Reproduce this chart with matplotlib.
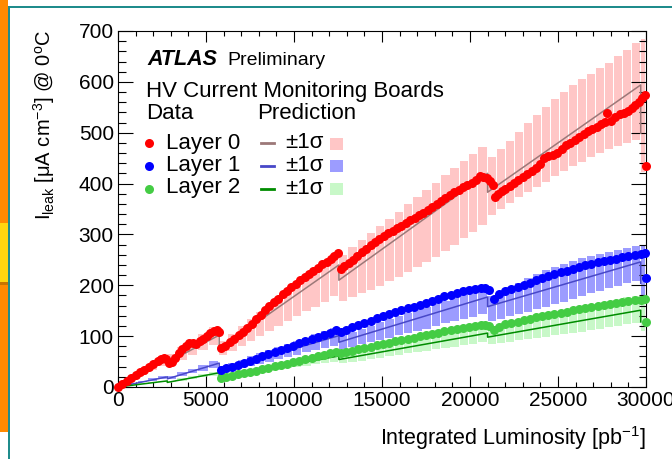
import numpy as np
import matplotlib
matplotlib.use('Agg')
import matplotlib.pyplot as plt
from matplotlib.patches import Rectangle
from matplotlib.lines import Line2D
from matplotlib.ticker import MultipleLocator

plt.rcParams['font.family'] = ['Liberation Sans', 'DejaVu Sans']
plt.rcParams['mathtext.fontset'] = 'custom'
plt.rcParams['mathtext.rm'] = 'Liberation Sans'
plt.rcParams['mathtext.it'] = 'Liberation Sans:italic'
plt.rcParams['mathtext.bf'] = 'Liberation Sans:bold'

# ---- data (integrated luminosity in pb^-1, current in uA/cm3) ----
red_lumi = [0, 250, 500, 750, 1000, 1250, 1500, 1750, 2000, 2250, 2450, 2600, 2750, 2880, 3050, 3250, 3450,
            3650, 3850, 4050, 4250, 4450, 4650, 4850, 5050, 5250, 5450, 5600, 5750,
            5880, 6100, 6350, 6600, 6850, 7100, 7350, 7600, 7850, 8100, 8350, 8600, 8850, 9100, 9350, 9600,
            9850, 10100, 10350, 10600, 10850, 11100, 11350, 11600, 11850, 12100, 12300, 12500,
            12650, 12850, 13100, 13350, 13600, 13850, 14100, 14350, 14600, 14850, 15100, 15350, 15600, 15850,
            16100, 16350, 16600, 16850, 17100, 17350, 17600, 17850, 18100, 18350, 18600, 18850, 19100, 19350,
            19600, 19850, 20100, 20350, 20550, 20750,
            20950, 21150, 21300, 21420, 21600, 21800, 22000, 22250, 22500, 22750, 23000, 23250, 23500, 23750,
            24000, 24200, 24450, 24700, 24950, 25200, 25450, 25700, 25950, 26200, 26450, 26700, 26950, 27200,
            27450, 27650, 27800, 28000, 28250, 28500, 28750, 29000, 29200, 29400, 29600, 29800, 29950, 30000]
red_curr = [0, 6, 12, 18, 23, 29, 34, 40, 46, 51, 55, 58, 56, 48, 50, 57, 66,
            74, 81, 87, 86, 85, 90, 95, 100, 106, 111, 112, 108,
            76, 81, 88, 95, 102, 108, 116, 124, 133, 142, 151, 159, 167, 174, 182, 189,
            197, 203, 210, 216, 223, 228, 234, 241, 246, 252, 257, 264,
            233, 238, 244, 250, 258, 265, 272, 279, 285, 291, 297, 302, 307, 312,
            317, 323, 328, 333, 338, 343, 348, 353, 359, 365, 371, 377, 383, 388,
            393, 397, 402, 407, 415, 413,
            411, 405, 398, 374, 380, 386, 390, 396, 402, 408, 413, 418, 425, 431,
            438, 450, 454, 457, 460, 468, 475, 480, 486, 492, 498, 503, 508, 512,
            517, 521, 538, 523, 530, 537, 539, 543, 549, 555, 561, 568, 574, 435]

bg_lumi = [5850, 6150, 6450, 6800, 7150, 7500, 7850, 8200, 8550, 8900, 9250, 9600, 9950, 10300, 10650,
           11000, 11350, 11700, 12050, 12400,
           12650, 12950, 13300, 13650, 14000, 14350, 14700, 15050, 15400, 15750, 16100, 16450, 16800,
           17150, 17500, 17850, 18200, 18550, 18900, 19250, 19600, 19950, 20300, 20600, 20850, 21100,
           21350, 21650, 22000, 22350, 22700, 23050, 23400, 23750, 24100, 24450, 24800, 25150, 25500,
           25850, 26200, 26550, 26900, 27250, 27600, 27950, 28300, 28650, 29000, 29350, 29700, 29950, 30000]
blue_curr = [33, 37, 40, 44, 48, 52, 56, 60, 65, 69, 73, 77, 81, 86, 90,
             94, 99, 103, 107, 112,
             108, 112, 117, 121, 126, 130, 135, 139, 143, 147, 151, 155, 158,
             162, 166, 170, 174, 178, 181, 185, 188, 191, 193, 195, 194, 190,
             174, 182, 189, 193, 197, 201, 205, 210, 214, 218, 222, 226, 229,
             233, 236, 239, 242, 245, 247, 250, 252, 255, 257, 260, 262, 264, 215]
green_curr = [18, 20, 22, 25, 27, 30, 32, 35, 38, 41, 43, 46, 49, 52, 55,
              58, 60, 63, 66, 69,
              66, 68, 71, 74, 77, 79, 82, 85, 87, 90, 92, 95, 97,
              100, 102, 105, 107, 110, 112, 114, 116, 118, 120, 121, 121, 119,
              112, 117, 124, 126, 128, 131, 134, 137, 140, 142, 144, 146, 148,
              151, 153, 155, 157, 159, 162, 164, 166, 168, 169, 171, 172, 173, 128]

# prediction (piecewise, drops at annealing periods)
pred_lumi = [0, 2800, 2800, 5750, 5750, 12550, 12550, 21000, 21000, 29700, 29700]
red_pred = [0, 55, 48, 102, 75, 240, 210, 420, 383, 594, 499]
blue_pred = [0, 20, 16, 47, 32, 101, 88, 177, 158, 246, 204]
green_pred = [0, 12, 9, 28, 19, 61, 54, 106, 98, 151, 128]

# +-1 sigma bands of the prediction, per luminosity bin
band_edges = [0, 560, 1130, 1700, 2270, 2800, 3380, 3960, 4560, 5150, 5750,
              6270, 6800, 7320, 7850, 8370, 8890, 9420, 9940, 10470, 10990, 11510, 12030, 12550,
              13080, 13610, 14130, 14660, 15190, 15720, 16250, 16780, 17300, 17830, 18360, 18890, 19410,
              19940, 20470, 21000,
              21510, 22030, 22540, 23050, 23560, 24080, 24590, 25100, 25610, 26130, 26640, 27150, 27660,
              28180, 28690, 29200, 29700, 30000]
red_hi = [7, 20, 34, 47, 61, 65, 78, 91, 104, 118,
          91, 105, 120, 134, 148, 162, 177, 191, 205, 219, 233, 247, 262,
          260, 275, 289, 303, 317, 331, 345, 360, 373, 387, 401, 416, 430, 444, 458, 472,
          452, 468, 484, 502, 519, 535, 551, 566, 580, 593, 605, 616, 627, 638, 650, 663, 676,
          684]
red_lo = [5, 14, 24, 33, 42, 45, 54, 63, 73, 82,
          62, 71, 81, 91, 100, 110, 120, 129, 139, 149, 158, 168, 178,
          170, 177, 184, 191, 199, 208, 217, 227, 236, 245, 256, 268, 280, 292, 305, 318,
          338, 350, 362, 374, 384, 393, 404, 414, 424, 434, 443, 452, 460, 467, 474, 480, 486,
          423]
blue_hi = [3, 7, 12, 17, 21, 22, 29, 36, 43, 51,
           41, 47, 53, 60, 66, 72, 79, 85, 91, 97, 104, 110, 116,
           102, 108, 114, 120, 127, 133, 139, 145, 152, 158, 164, 170, 176, 183, 189, 195,
           178, 186, 196, 205, 214, 223, 230, 236, 242, 248, 253, 258, 262, 266, 270, 274, 278,
           279]
blue_lo = [2, 5, 9, 12, 15, 16, 21, 27, 32, 37,
           28, 33, 37, 41, 46, 50, 55, 59, 63, 68, 72, 76, 81,
           74, 79, 84, 88, 93, 97, 102, 106, 111, 115, 120, 125, 129, 134, 138, 143,
           130, 134, 139, 144, 148, 153, 158, 163, 168, 174, 179, 184, 189, 194, 199, 204, 209,
           119]
green_hi = [1.4, 4.2, 7, 10, 12.5, 12.5, 17, 21, 26, 30,
            25, 29, 33, 36, 40, 44, 48, 52, 56, 60, 64, 67, 71,
            67, 71, 75, 78, 82, 86, 90, 94, 98, 102, 106, 110, 114, 117, 121, 125,
            119, 123, 127, 131, 134, 138, 142, 146, 150, 153, 157, 161, 164, 168, 172, 176, 179,
            175]
green_lo = [1, 3, 5, 7, 9, 9, 12, 16, 19, 22,
            17, 20, 23, 26, 29, 31, 34, 37, 40, 42, 45, 48, 50,
            47, 49, 52, 55, 58, 60, 63, 66, 69, 71, 74, 77, 79, 82, 85, 88,
            84, 87, 89, 92, 94, 97, 99, 102, 104, 107, 109, 112, 114, 117, 120, 123, 126,
            110]

layers = ['Layer 0', 'Layer 1', 'Layer 2']
data_colors = ['#ff0000', '#0000ff', '#44cc44']
pred_colors = ['#9c7878', '#4848c8', '#008c00']
band_colors = ['#ffc6c6', '#9c9cff', '#c8f8c8']

W, H = 672, 459
def fx(px):
    return px / W
def fy(py):
    return 1 - py / H

fig = plt.figure(figsize=(W / 100, H / 100), dpi=100)

# slide decoration around the plot
fig.add_artist(Rectangle((0, fy(432)), fx(8), 432 / H, transform=fig.transFigure, color='#ff8a00', lw=0))
fig.add_artist(Rectangle((0, fy(282)), fx(8), 59 / H, transform=fig.transFigure, color='#ffd60f', lw=0))
fig.add_artist(Rectangle((0, fy(285)), fx(8), 3 / H, transform=fig.transFigure, color='#c87400', lw=0))
fig.add_artist(Rectangle((fx(8.3), 0), fx(1.8), fy(7), transform=fig.transFigure, color='#1f8c8c', lw=0))
fig.add_artist(Rectangle((fx(8.3), fy(8)), 1 - fx(8.3), 1.8 / H, transform=fig.transFigure, color='#1f8c8c', lw=0))

ax = fig.add_axes([fx(118), fy(387), 528 / W, 356 / H])

edges = np.array(band_edges)
widths = np.diff(edges) * 0.9
bands = [(red_lo, red_hi), (blue_lo, blue_hi), (green_lo, green_hi)]
for (lo, hi), c in zip(bands, band_colors):
    lo = np.array(lo)
    hi = np.array(hi)
    ax.bar(edges[:-1], hi - lo, width=widths, bottom=lo, align='edge', color=c, lw=0, zorder=1)

for pred, c in zip([red_pred, blue_pred, green_pred], pred_colors):
    ax.plot(pred_lumi, pred, color=c, lw=1.1, zorder=2)

ms = 6.5
ax.plot(bg_lumi, green_curr, 'o', color=data_colors[2], ms=ms, mew=0, zorder=3, clip_on=False)
ax.plot(bg_lumi, blue_curr, 'o', color=data_colors[1], ms=ms, mew=0, zorder=3, clip_on=False)
ax.plot(red_lumi, red_curr, 'o', color=data_colors[0], ms=ms, mew=0, zorder=3, clip_on=False)

ax.set_xlim(0, 30000)
ax.set_ylim(0, 700)
ax.xaxis.set_major_locator(MultipleLocator(5000))
ax.xaxis.set_minor_locator(MultipleLocator(1000))
ax.yaxis.set_major_locator(MultipleLocator(100))
ax.yaxis.set_minor_locator(MultipleLocator(20))
ax.tick_params(axis='x', which='major', direction='in', length=7.6, width=0.8, top=True, labelsize=15, pad=3)
ax.tick_params(axis='x', which='minor', direction='in', length=3.8, width=0.8, top=True)
ax.tick_params(axis='y', which='major', direction='in', length=10.8, width=0.8, right=True, labelsize=15, pad=3)
ax.tick_params(axis='y', which='minor', direction='in', length=5.4, width=0.8, right=True)
for s in ax.spines.values():
    s.set_linewidth(0.8)

fig.text(fx(646), fy(445), r'Integrated Luminosity [pb$^{\mathregular{-1}}$]', fontsize=15.5,
         ha='right', va='baseline')
fig.text(fx(44), fy(30), r'I$_{\mathregular{leak}}$ [μA cm$^{\mathregular{-3}}$] @ 0$^{\mathregular{o}}$C',
         fontsize=14.5, rotation=90, ha='center', va='top')

# legend
fig.text(fx(147), fy(65), 'ATLAS', fontsize=15.5, fontweight='bold', fontstyle='italic', va='baseline')
fig.text(fx(227), fy(65), 'Preliminary', fontsize=14, va='baseline')
fig.text(fx(146), fy(97), 'HV Current Monitoring Boards', fontsize=16, va='baseline')
fig.text(fx(146), fy(119), 'Data', fontsize=16, va='baseline')
fig.text(fx(257), fy(119), 'Prediction', fontsize=16, va='baseline')
row_y = [143.5, 166, 188.5]
for i, name in enumerate(layers):
    y = row_y[i]
    fig.add_artist(Line2D([fx(149)], [fy(y)], marker='o', ms=ms, mew=0, color=data_colors[i],
                          transform=fig.transFigure))
    fig.text(fx(166), fy(y + 5), name, fontsize=16, va='baseline')
    fig.add_artist(Line2D([fx(261), fx(274)], [fy(y), fy(y)], lw=2, color=pred_colors[i],
                          transform=fig.transFigure))
    fig.text(fx(285), fy(y + 5), '±1σ', fontsize=16, va='baseline')
    fig.add_artist(Rectangle((fx(330), fy(y + 6)), 13 / W, 12 / H, color=band_colors[i], lw=0,
                             transform=fig.transFigure))

fig.savefig('out.png', dpi=100)
